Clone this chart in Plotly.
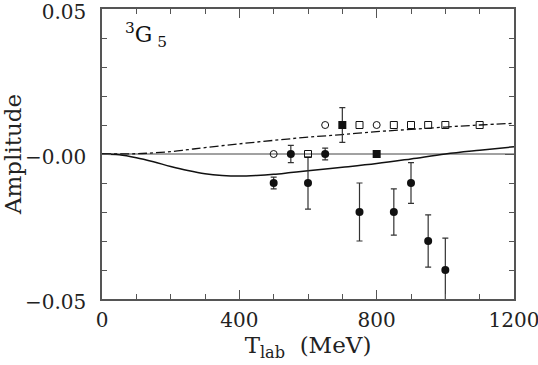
import plotly.graph_objects as go

# theory curves
curve_t = [0, 50, 100, 150, 200, 250, 300, 350, 400, 450, 500, 550, 600, 700, 800, 900, 1000, 1100, 1200]
solid_amp = [0, -0.0003, -0.0013, -0.0027, -0.0043, -0.0057, -0.0068, -0.0074, -0.0076, -0.0074,
             -0.0070, -0.0064, -0.0058, -0.0046, -0.0033, -0.0017, 0.0000, 0.0013, 0.0025]
dashdot_t = [0, 100, 150, 200, 250, 300, 400, 500, 600, 700, 800, 900, 1000, 1100, 1200]
dashdot_amp = [0, 0.0001, 0.0004, 0.0008, 0.0015, 0.0022, 0.0035, 0.0047, 0.0058, 0.0067,
               0.0077, 0.0085, 0.0093, 0.0100, 0.0106]

# filled circles with errors
fc_t = [500, 550, 600, 650, 750, 850, 900, 950, 1000]
fc_amp = [-0.010, 0.000, -0.010, 0.000, -0.020, -0.020, -0.010, -0.030, -0.040]
fc_err = [0.002, 0.003, 0.009, 0.002, 0.010, 0.008, 0.007, 0.009, 0.011]

# filled squares
fs_t = [700, 800]
fs_amp = [0.010, 0.000]
fs_err = [0.006, 0]

# open circles
oc_t = [500, 650, 800]
oc_amp = [0.000, 0.010, 0.010]

# open squares
os_t = [600, 750, 850, 900, 950, 1000, 1100]
os_amp = [0.000, 0.010, 0.010, 0.010, 0.010, 0.010, 0.010]

ink = "#111111"
fig = go.Figure()

fig.add_trace(go.Scatter(x=[0, 1200], y=[0, 0], mode="lines",
                         line=dict(color="#444444", width=1)))
fig.add_trace(go.Scatter(x=curve_t, y=solid_amp, mode="lines", line_shape="spline",
                         line=dict(color=ink, width=1.5)))
fig.add_trace(go.Scatter(x=dashdot_t, y=dashdot_amp, mode="lines", line_shape="spline",
                         line=dict(color=ink, width=1.3, dash="dashdot")))
fig.add_trace(go.Scatter(x=fc_t, y=fc_amp, mode="markers",
                         marker=dict(symbol="circle", size=8, color=ink),
                         error_y=dict(type="data", array=fc_err, color="#333333",
                                      thickness=1.2, width=3)))
fig.add_trace(go.Scatter(x=fs_t, y=fs_amp, mode="markers",
                         marker=dict(symbol="square", size=8, color=ink),
                         error_y=dict(type="data", array=fs_err, color="#333333",
                                      thickness=1.2, width=3)))
fig.add_trace(go.Scatter(x=oc_t, y=oc_amp, mode="markers",
                         marker=dict(symbol="circle-open", size=7, color=ink,
                                     line=dict(width=1))))
fig.add_trace(go.Scatter(x=os_t, y=os_amp, mode="markers",
                         marker=dict(symbol="square-open", size=7, color=ink,
                                     line=dict(width=1))))

fig.add_annotation(x=60, y=0.041, text="<sup>3</sup>G<sub> 5</sub>", showarrow=False,
                   xanchor="left", yanchor="middle", font=dict(size=22, color=ink))

axis_font = dict(family="DejaVu Serif", size=20, color="#222222")
title_font = dict(family="DejaVu Serif", size=23, color="#222222")
fig.update_xaxes(range=[0, 1200], tickvals=[0, 400, 800, 1200],
                 ticks="inside", ticklen=9, tickcolor="#555555",
                 minor=dict(dtick=100, ticks="inside", ticklen=5, tickcolor="#555555"),
                 showline=True, linecolor="#555555", linewidth=1.5, mirror="ticks",
                 showgrid=False, zeroline=False, tickfont=axis_font,
                 automargin=False, ticklabeloverflow="allow", ticklabelstandoff=2,
                 title=dict(text="T<sub>lab</sub>  (MeV)", font=title_font, standoff=2))
fig.update_yaxes(range=[-0.05, 0.05], tickvals=[-0.05, 0, 0.05],
                 ticktext=["\u22120.05", "\u22120.00", "0.05"],
                 ticks="inside", ticklen=9, tickcolor="#555555",
                 minor=dict(dtick=0.01, ticks="inside", ticklen=5, tickcolor="#555555"),
                 showline=True, linecolor="#555555", linewidth=1.5, mirror="ticks",
                 showgrid=False, zeroline=False, tickfont=axis_font,
                 automargin=False, ticklabeloverflow="allow", ticklabelstandoff=10,
                 ticklabelshift=3,
                 title=dict(text="Amplitude", font=title_font, standoff=10))

fig.update_layout(width=538, height=365, showlegend=False,
                  plot_bgcolor="white", paper_bgcolor="white",
                  font=dict(family="DejaVu Serif", color=ink),
                  margin=dict(l=102, r=24, t=9, b=66))

fig.write_html("out.html", config={"displayModeBar": False},
               post_script="document.body.style.margin='0';")
